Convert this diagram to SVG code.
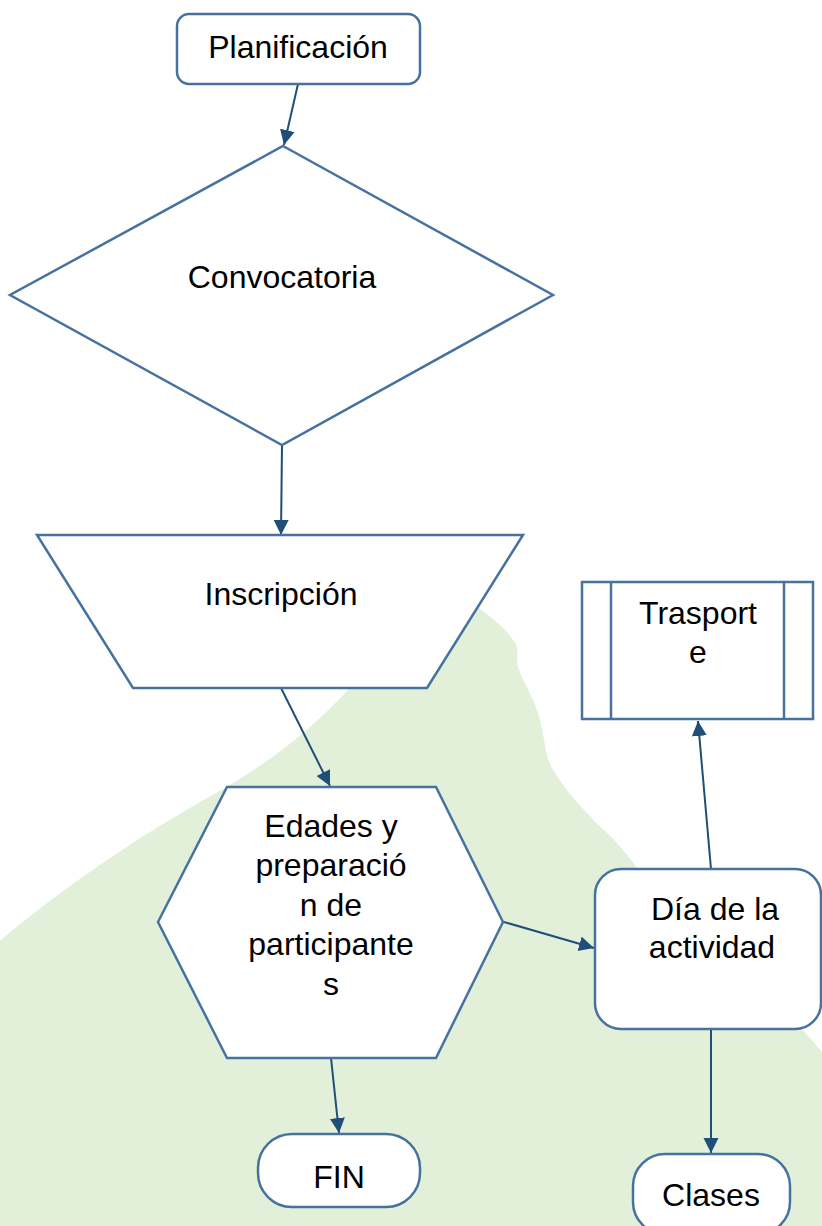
<svg xmlns="http://www.w3.org/2000/svg" width="822" height="1226" viewBox="0 0 822 1226">
<defs>
<style>
.node{fill:#FFFFFF;stroke:#4672A0;stroke-width:2.5;stroke-linejoin:miter}
.lbl{font-family:"Liberation Sans",Arial,sans-serif;font-size:32px;fill:#000000;text-anchor:middle}
.conn{fill:none;stroke:#1F4E79;stroke-width:2;marker-end:url(#arrow)}
</style>
<marker id="arrow" markerUnits="userSpaceOnUse" markerWidth="16" markerHeight="16" refX="15" refY="7.5" orient="auto">
<path d="M0,0 L15,7.5 L0,15 Z" fill="#1F4E79"/>
</marker>
</defs>
<rect x="0" y="0" width="822" height="1226" fill="#FFFFFF"/>
<path id="background" d="M0 941 C50 898 120 848 200 802 C250 775 300 742 350 688 L440 620 L475 605 C495 620 510 632 516 645 C520 652 514 660 520 672 C527 690 535 700 540 720 C545 740 545 755 552 768 C565 790 580 807 607 833 C620 845 630 858 640 872 L803 1030 L822 1052 L822 1226 L0 1226 Z" fill="#E2F0D9"/>
<g id="connectors">
<line class="conn" x1="298" y1="84" x2="284" y2="145"/>
<line class="conn" x1="282" y1="445" x2="281" y2="535"/>
<line class="conn" x1="281" y1="688" x2="330" y2="786"/>
<line class="conn" x1="504" y1="922" x2="594" y2="948"/>
<line class="conn" x1="711" y1="869" x2="698" y2="721"/>
<line class="conn" x1="711" y1="1029" x2="711" y2="1153"/>
<line class="conn" x1="331" y1="1058" x2="339" y2="1133"/>
</g>
<g id="planificacion">
<rect class="node" x="177" y="14" width="243" height="70" rx="12"/>
<text class="lbl" x="298" y="58">Planificación</text>
</g>
<g id="convocatoria">
<polygon class="node" points="283,146 553,295 282,445 10,295"/>
<text class="lbl" x="282" y="288">Convocatoria</text>
</g>
<g id="inscripcion">
<polygon class="node" points="37,535 523,535 427,688 133,688"/>
<text class="lbl" x="281" y="605">Inscripción</text>
</g>
<g id="edades">
<polygon class="node" points="227,787 436,787 503,922 436,1058 227,1058 158,922"/>
<text class="lbl" x="331" y="837">Edades y</text>
<text class="lbl" x="331" y="876">preparació</text>
<text class="lbl" x="331" y="916">n de</text>
<text class="lbl" x="331" y="955">participante</text>
<text class="lbl" x="331" y="995">s</text>
</g>
<g id="trasporte">
<rect class="node" x="582" y="582" width="231" height="137"/>
<line x1="611" y1="582" x2="611" y2="719" stroke="#4672A0" stroke-width="2.5"/>
<line x1="784" y1="582" x2="784" y2="719" stroke="#4672A0" stroke-width="2.5"/>
<text class="lbl" x="698" y="624">Trasport</text>
<text class="lbl" x="698" y="663">e</text>
</g>
<g id="dia">
<rect class="node" x="595" y="869" width="226" height="160" rx="26"/>
<text class="lbl" x="715" y="920">Día de la</text>
<text class="lbl" x="712" y="958">actividad</text>
</g>
<g id="fin">
<rect class="node" x="258" y="1134" width="162" height="73" rx="34"/>
<text class="lbl" x="339" y="1188">FIN</text>
</g>
<g id="clases">
<rect class="node" x="633" y="1154" width="157" height="80" rx="32"/>
<text class="lbl" x="711" y="1206">Clases</text>
</g>
</svg>
